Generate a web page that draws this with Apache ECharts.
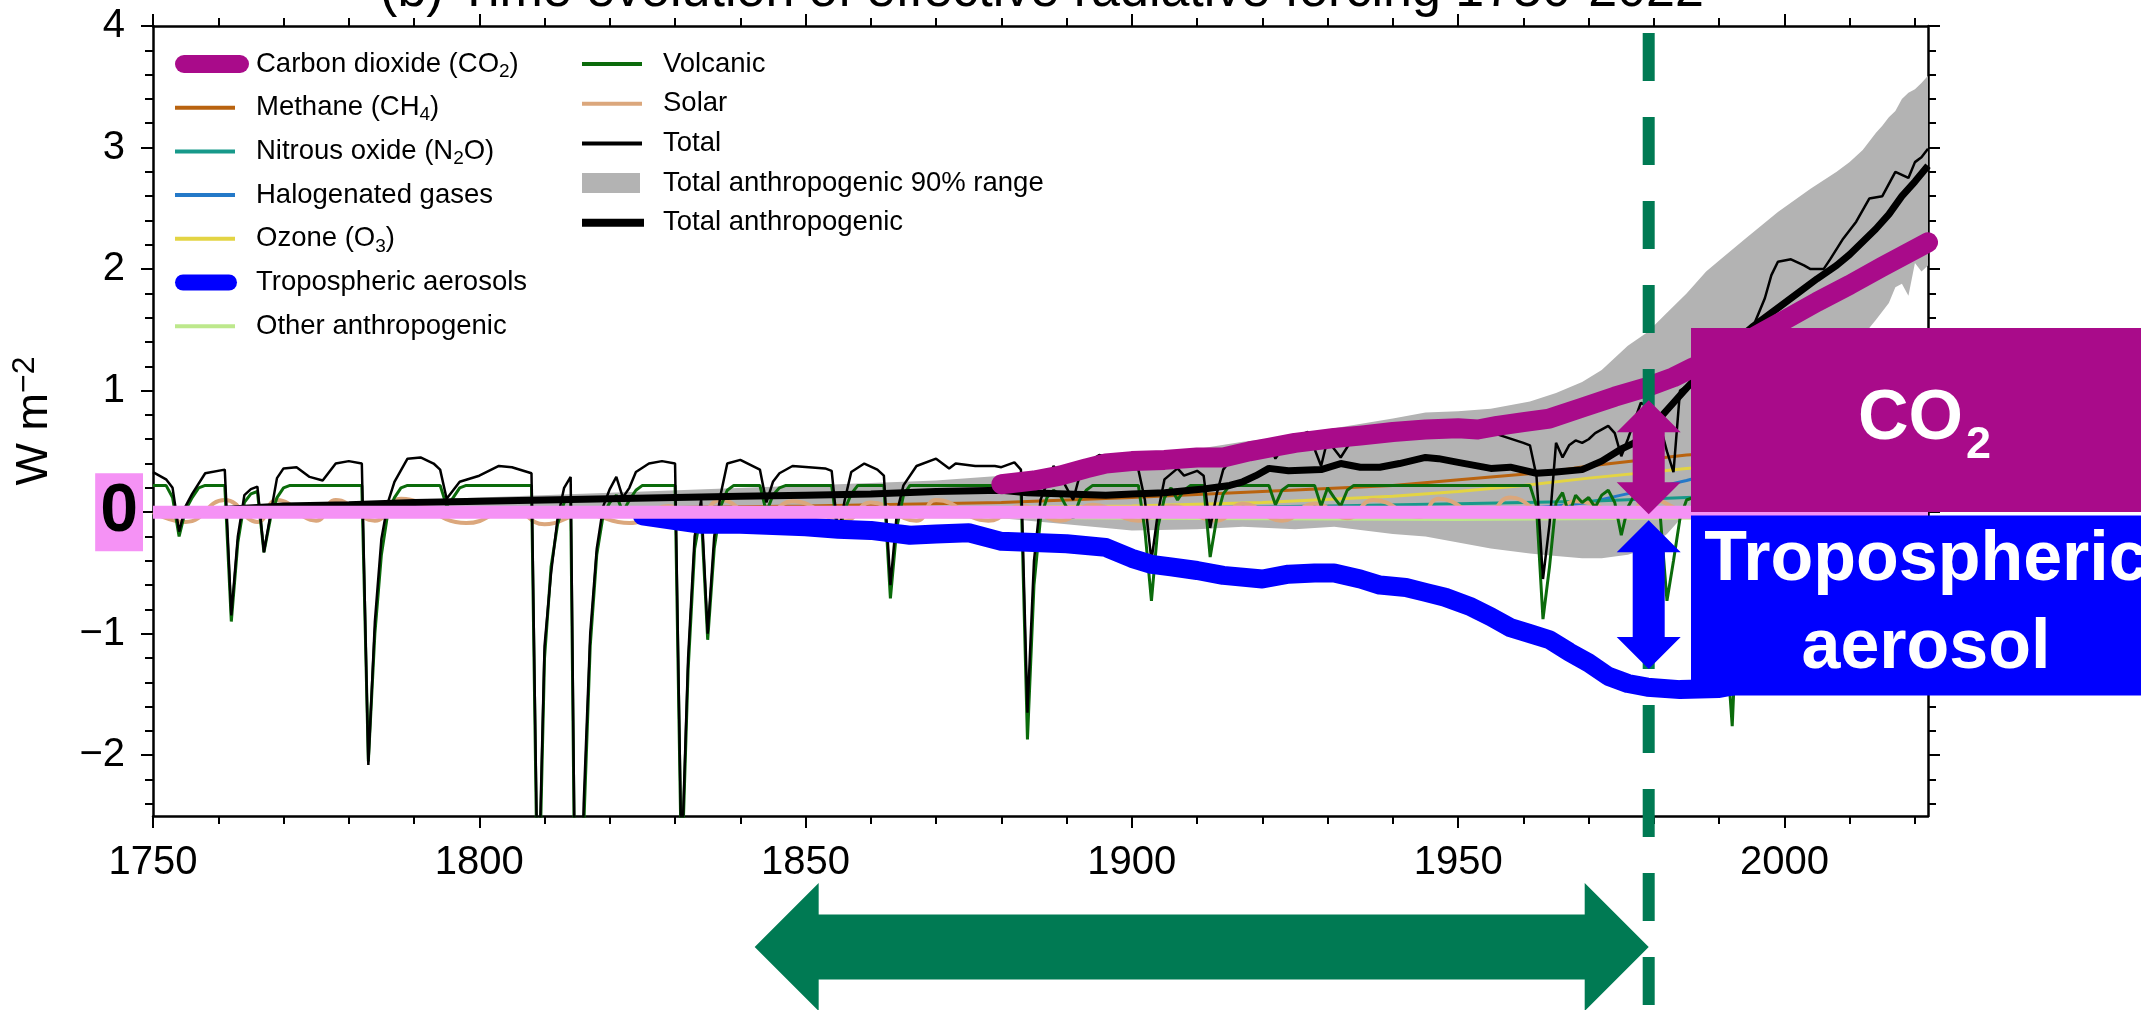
<!DOCTYPE html>
<html><head><meta charset="utf-8">
<script src="https://cdn.jsdelivr.net/npm/echarts@6/dist/echarts.min.js"></script>
<style>html,body{margin:0;padding:0;background:#fff}#main{width:2141px;height:1010px}</style>
</head><body><div id="main"></div>
<script>
const FONT = "'Liberation Sans', Arial, Helvetica, sans-serif";

// ---------- tick positions ----------
const xMajorTicks = [1750,1800,1850,1900,1950,2000];
const xMinorTicks = [1760,1770,1780,1790,1810,1820,1830,1840,1860,1870,1880,1890,1910,1920,1930,1940,1960,1970,1980,1990,2010,2020];
const yMajorTicks = [-2,-1,0,1,2,3,4];
const yMinorTicks = [-2.4,-2.2,-1.8,-1.6,-1.4,-1.2,-0.8,-0.6,-0.4,-0.2,0.2,0.4,0.6,0.8,1.2,1.4,1.6,1.8,2.2,2.4,2.6,2.8,3.2,3.4,3.6,3.8];

// ---------- series values [year, W m-2] ----------
const co2Data = [[1880,0.23],[1885,0.26],[1889,0.3],[1893,0.36],[1896,0.4],[1900,0.42],[1905,0.43],[1910,0.45],[1914,0.45],[1918,0.5],[1921,0.53],[1925,0.57],[1931,0.61],[1935,0.63],[1940,0.66],[1945,0.68],[1950,0.69],[1953,0.68],[1956,0.71],[1960,0.74],[1964,0.77],[1969,0.86],[1974,0.95],[1979,1.03],[1983,1.11],[1986,1.19],[1990,1.29],[1994,1.4],[1997,1.49],[2000,1.58],[2005,1.73],[2010,1.87],[2015,2.02],[2022,2.22]];
const ch4Data = [[1750,0],[1800,0.02],[1850,0.05],[1880,0.08],[1900,0.12],[1920,0.17],[1940,0.22],[1955,0.29],[1964,0.33],[1970,0.38],[1985,0.47],[2000,0.52],[2022,0.57]];
const n2oData = [[1750,0],[1800,0.005],[1850,0.01],[1900,0.03],[1930,0.05],[1950,0.07],[1970,0.09],[1985,0.12],[2000,0.15],[2022,0.21]];
const halogenData = [[1750,0],[1930,0],[1945,0.005],[1955,0.02],[1960,0.03],[1965,0.05],[1970,0.08],[1975,0.14],[1980,0.2],[1985,0.26],[1990,0.33],[1995,0.37],[2000,0.39],[2010,0.4],[2022,0.41]];
const ozoneData = [[1750,0],[1850,0.02],[1900,0.05],[1920,0.08],[1940,0.13],[1950,0.17],[1960,0.22],[1970,0.28],[1985,0.36],[2000,0.42],[2022,0.47]];
const aerosolData = [[1825,-0.03],[1830,-0.07],[1834,-0.1],[1840,-0.1],[1845,-0.11],[1850,-0.12],[1855,-0.14],[1860,-0.15],[1866,-0.19],[1870,-0.18],[1875,-0.17],[1880,-0.24],[1885,-0.25],[1890,-0.26],[1896,-0.29],[1900,-0.38],[1903,-0.43],[1906,-0.45],[1910,-0.48],[1914,-0.52],[1920,-0.55],[1924,-0.51],[1928,-0.5],[1931,-0.5],[1935,-0.55],[1938,-0.6],[1942,-0.62],[1945,-0.66],[1948,-0.7],[1952,-0.78],[1955,-0.86],[1958,-0.95],[1961,-1.0],[1964,-1.05],[1967,-1.15],[1970,-1.24],[1973,-1.35],[1976,-1.41],[1979,-1.44],[1984,-1.46],[1990,-1.45],[2000,-1.35],[2010,-1.25],[2022,-1.1]];
const otherData = [[1750,0],[1800,-0.01],[1850,-0.03],[1900,-0.05],[1950,-0.06],[1980,-0.05],[2022,-0.04]];
const volcanicData = [[1750,0.22],[1752,0.22],[1753,0.12],[1754,-0.2],[1755,0.02],[1756,0.12],[1757,0.2],[1758,0.22],[1761,0.22],[1762,-0.9],[1763,-0.25],[1764,0.08],[1765,0.15],[1766,0.17],[1767,-0.33],[1768,-0.05],[1769,0.12],[1770,0.2],[1771,0.22],[1782,0.22],[1783,-2.05],[1784,-1.0],[1785,-0.35],[1786,0.0],[1787,0.12],[1788,0.2],[1789,0.22],[1794,0.22],[1795,0.05],[1796,0.12],[1797,0.2],[1798,0.22],[1808,0.22],[1809,-3.5],[1810,-1.2],[1811,-0.45],[1812,-0.1],[1813,0.08],[1814,0.12],[1815,-5.0],[1816,-2.6],[1817,-1.1],[1818,-0.35],[1819,-0.02],[1820,0.08],[1821,0.14],[1822,0.0],[1823,0.1],[1824,0.18],[1825,0.22],[1830,0.22],[1831,-3.0],[1832,-1.3],[1833,-0.3],[1834,0.0],[1835,-1.05],[1836,-0.3],[1837,0.05],[1838,0.18],[1839,0.22],[1843,0.22],[1844,0.0],[1845,0.14],[1846,0.2],[1847,0.22],[1854,0.22],[1855,-0.2],[1856,0.02],[1857,0.15],[1858,0.22],[1862,0.22],[1863,-0.71],[1864,-0.12],[1865,0.14],[1866,0.22],[1883,0.22],[1884,-1.87],[1885,-0.6],[1886,-0.05],[1887,0.12],[1888,0.18],[1889,0.14],[1890,0.04],[1891,-0.05],[1892,0.1],[1893,0.18],[1894,0.22],[1901,0.22],[1902,-0.15],[1903,-0.73],[1904,-0.12],[1905,0.12],[1906,0.2],[1907,0.1],[1908,0.18],[1909,0.22],[1911,0.22],[1912,-0.37],[1913,-0.05],[1914,0.15],[1915,0.22],[1921,0.22],[1922,0.06],[1923,0.18],[1924,0.22],[1928,0.22],[1929,0.05],[1930,0.2],[1931,0.12],[1932,0.05],[1933,0.18],[1934,0.22],[1961,0.22],[1962,0.05],[1963,-0.88],[1964,-0.45],[1965,0.08],[1966,0.16],[1967,-0.02],[1968,0.14],[1969,0.08],[1970,0.12],[1971,0.04],[1972,0.14],[1973,0.18],[1974,0.08],[1975,-0.19],[1976,0.04],[1977,0.14],[1978,0.1],[1979,0.06],[1980,0.08],[1981,-0.05],[1982,-0.73],[1983,-0.4],[1984,-0.05],[1985,0.1],[1986,0.12],[1988,0.1],[1990,0.05],[1991,-1.0],[1992,-1.76],[1993,-0.5],[1994,0.0],[1995,0.1],[2000,0.14],[2005,0.1],[2010,0.08],[2015,0.1],[2022,0.12]];
const solarData = [[1750,0.0],[1755,-0.08],[1761,0.1],[1766,-0.08],[1769,0.1],[1775,-0.07],[1778,0.1],[1784,-0.07],[1788,0.11],[1798,-0.09],[1805,0.02],[1810,-0.1],[1816,-0.02],[1823,-0.09],[1829,0.05],[1833,-0.07],[1837,0.1],[1843,-0.07],[1848,0.09],[1856,-0.07],[1860,0.08],[1867,-0.07],[1870,0.1],[1878,-0.07],[1883,0.05],[1889,-0.07],[1894,0.06],[1901,-0.07],[1906,0.05],[1913,-0.07],[1917,0.07],[1923,-0.07],[1928,0.07],[1933,-0.05],[1937,0.1],[1944,-0.04],[1947,0.11],[1954,-0.03],[1958,0.12],[1964,-0.02],[1968,0.09],[1976,-0.02],[1979,0.11],[1986,0.0],[1989,0.11],[1996,0.0],[2000,0.1],[2008,-0.02],[2014,0.06],[2019,-0.02],[2022,0.03]];
const totalData = [[1750,0.33],[1752,0.27],[1753,0.2],[1754,-0.16],[1755,0.05],[1756,0.15],[1758,0.32],[1761,0.35],[1762,-0.85],[1763,-0.2],[1764,0.14],[1765,0.19],[1766,0.21],[1767,-0.33],[1768,-0.02],[1769,0.28],[1770,0.36],[1772,0.37],[1774,0.29],[1776,0.26],[1778,0.4],[1780,0.42],[1782,0.4],[1783,-2.08],[1784,-0.9],[1785,-0.22],[1786,0.08],[1787,0.25],[1789,0.44],[1791,0.45],[1793,0.4],[1794,0.35],[1795,0.11],[1796,0.18],[1797,0.25],[1800,0.3],[1803,0.38],[1805,0.37],[1808,0.32],[1809,-3.3],[1810,-1.1],[1811,-0.5],[1812,-0.05],[1813,0.2],[1814,0.29],[1815,-4.8],[1816,-2.4],[1817,-1.0],[1818,-0.3],[1819,0.05],[1820,0.19],[1821,0.29],[1822,0.12],[1823,0.2],[1824,0.33],[1826,0.4],[1828,0.42],[1830,0.4],[1831,-2.9],[1832,-1.2],[1833,-0.2],[1834,0.1],[1835,-1.0],[1836,-0.2],[1837,0.15],[1838,0.4],[1840,0.43],[1843,0.35],[1844,0.08],[1845,0.25],[1846,0.32],[1848,0.38],[1853,0.36],[1854,0.34],[1855,-0.19],[1856,0.1],[1857,0.33],[1859,0.4],[1861,0.35],[1862,0.3],[1863,-0.6],[1864,0.0],[1865,0.22],[1867,0.38],[1870,0.44],[1872,0.36],[1873,0.4],[1876,0.38],[1879,0.38],[1880,0.37],[1882,0.41],[1883,0.35],[1884,-1.65],[1885,-0.4],[1886,0.1],[1888,0.38],[1889,0.3],[1890,0.2],[1891,0.1],[1892,0.3],[1893,0.4],[1895,0.47],[1899,0.41],[1901,0.35],[1902,0.1],[1903,-0.4],[1904,0.0],[1905,0.27],[1907,0.36],[1908,0.3],[1910,0.34],[1911,0.3],[1912,-0.13],[1913,0.15],[1914,0.35],[1916,0.49],[1918,0.57],[1921,0.57],[1922,0.44],[1924,0.6],[1927,0.66],[1929,0.38],[1930,0.6],[1931,0.52],[1932,0.45],[1934,0.62],[1935,0.68],[1938,0.71],[1941,0.64],[1945,0.73],[1949,0.73],[1952,0.66],[1956,0.64],[1960,0.57],[1961,0.55],[1962,0.3],[1963,-0.55],[1964,-0.1],[1965,0.57],[1966,0.45],[1967,0.55],[1968,0.59],[1969,0.57],[1970,0.6],[1971,0.65],[1973,0.71],[1974,0.65],[1975,0.46],[1976,0.6],[1977,0.75],[1978,0.9],[1980,0.85],[1981,0.7],[1982,0.5],[1983,0.33],[1984,1.0],[1986,1.07],[1987,1.12],[1989,1.13],[1990,1.15],[1991,0.8],[1992,-0.3],[1993,0.6],[1994,1.2],[1995,1.5],[1997,1.76],[1998,1.95],[1999,2.06],[2001,2.08],[2003,2.03],[2004,2.0],[2006,2.0],[2007,2.08],[2009,2.25],[2011,2.39],[2013,2.58],[2015,2.6],[2017,2.8],[2019,2.75],[2020,2.88],[2021,2.92],[2022,2.99]];
const totalAnthroData = [[1750,0],[1760,0.02],[1770,0.05],[1780,0.06],[1790,0.08],[1800,0.09],[1810,0.1],[1820,0.11],[1830,0.12],[1840,0.13],[1850,0.14],[1860,0.15],[1870,0.17],[1880,0.18],[1884,0.16],[1890,0.15],[1896,0.14],[1900,0.15],[1905,0.16],[1911,0.19],[1915,0.22],[1917,0.25],[1919,0.3],[1921,0.36],[1924,0.34],[1929,0.35],[1932,0.4],[1935,0.37],[1938,0.37],[1941,0.4],[1945,0.45],[1947,0.44],[1950,0.41],[1955,0.36],[1958,0.37],[1962,0.32],[1965,0.33],[1969,0.35],[1972,0.42],[1975,0.52],[1977,0.57],[1980,0.72],[1983,0.9],[1985,1.02],[1990,1.3],[1995,1.52],[2000,1.72],[2002,1.8],[2005,1.92],[2008,2.03],[2010,2.12],[2014,2.33],[2016,2.45],[2018,2.6],[2020,2.72],[2022,2.85]];
const bandYears = [1750,1780,1800,1820,1850,1870,1880,1890,1900,1910,1917,1925,1931,1940,1945,1950,1955,1961,1965,1969,1972,1976,1979,1982,1985,1988,1990,1994,1999,2004,2008,2010,2012,2014,2015,2016,2017,2018,2019,2020,2021,2022];
const bandLow  = [0,0.01,0.0,-0.01,-0.03,-0.04,-0.05,-0.1,-0.15,-0.14,-0.12,-0.14,-0.12,-0.18,-0.2,-0.25,-0.3,-0.34,-0.36,-0.38,-0.38,-0.35,-0.3,-0.18,0.0,0.2,0.35,0.6,0.85,1.05,1.25,1.33,1.45,1.58,1.65,1.72,1.85,1.88,1.78,2.05,1.98,2.03];
const bandHigh = [0,0.08,0.12,0.16,0.22,0.26,0.3,0.38,0.45,0.52,0.58,0.63,0.69,0.77,0.82,0.83,0.85,0.91,0.98,1.07,1.17,1.37,1.48,1.64,1.8,1.98,2.07,2.25,2.47,2.66,2.8,2.88,2.98,3.12,3.18,3.25,3.3,3.4,3.45,3.48,3.53,3.59];
const zeroLine = [[1750,0],[2022,0]];

// annotation anchors (data units)
const markerYear = 1979.2;
const bottomArrowStartYear = 1842.2;
const co2ArrowTop = 0.92;
const aerosolArrowBottom = -1.29;

const C = {co2:'#A90B8A', ch4:'#B9630F', n2o:'#17998A', halo:'#2479C8', o3:'#E3D443', aer:'#0000FF', other:'#BDE88C', volc:'#0B6B0B', solar:'#DBA77C', total:'#000000', band:'#B3B3B3', pink:'#F592F5', green:'#007A53'};

const richLegend = {
  'Carbon dioxide (CO2)': 'Carbon dioxide (CO{sub|2})',
  'Methane (CH4)': 'Methane (CH{sub|4})',
  'Nitrous oxide (N2O)': 'Nitrous oxide (N{sub|2}O)',
  'Ozone (O3)': 'Ozone (O{sub|3})'
};
function box(d) { return 'path://M0,0M76,22' + d; }
const iconThin = box('M0,9L60,9L60,13L0,13Z');
const iconCO2 = box('M9,2L65,2A9,9,0,0,1,65,20L9,20A9,9,0,0,1,9,2Z');
const iconAer = box('M8,3L54,3A8,8,0,0,1,54,19L8,19A8,8,0,0,1,8,3Z');
const iconBand = box('M0,1L58,1L58,21L0,21Z');
const iconThick = box('M0,7L62,7L62,15L0,15Z');

const legendText = {
  fontSize: 27.5, fontFamily: FONT, color: '#000', lineHeight: 34,
  rich: { sub: { fontSize: 19, fontFamily: FONT, color: '#000', verticalAlign: 'bottom' } }
};

function xAx(pos, ticks, len, line, labels) {
  return {
    type: 'value', gridIndex: 0, position: pos, min: 1750, max: 2022,
    axisLine: { show: line, onZero: false, lineStyle: { color: '#000', width: 2.5 } },
    axisTick: { show: true, inside: false, length: len, customValues: ticks, lineStyle: { color: '#000', width: 2 } },
    axisLabel: labels ? { show: true, customValues: ticks, fontSize: 40, fontFamily: FONT, color: '#000', margin: 27,
      formatter: function (v) { return String(v); } } : { show: false },
    splitLine: { show: false }
  };
}
function yAx(pos, ticks, len, line, labels) {
  const a = {
    type: 'value', gridIndex: 0, position: pos, min: -2.5, max: 4,
    axisLine: { show: line, onZero: false, lineStyle: { color: '#000', width: 2.5 } },
    axisTick: { show: true, inside: false, length: len, customValues: ticks, lineStyle: { color: '#000', width: 2 } },
    axisLabel: { show: false },
    splitLine: { show: false }
  };
  if (labels) {
    a.axisLabel = {
      show: true, customValues: ticks, margin: 10,
      formatter: function (v) {
        if (v === 0) return '{z|0}';
        return '{n|' + (v < 0 ? '\u2212' + Math.abs(v) : String(v)) + '}';
      },
      rich: {
        z: { fontSize: 68, fontWeight: 'bold', fontFamily: FONT, color: '#000', backgroundColor: C.pink, padding: [5, 5, 5, 5], lineHeight: 75 },
        n: { fontSize: 40, fontFamily: FONT, color: '#000', padding: [0, 18, 0, 0] }
      }
    };
    a.name = 'W m{sup|\u22122}';
    a.nameLocation = 'middle';
    a.nameGap = 92;
    a.nameTextStyle = { fontSize: 45, fontFamily: FONT, color: '#000', lineHeight: 52,
      rich: { sup: { fontSize: 32, fontFamily: FONT, color: '#000', verticalAlign: 'top' } } };
  }
  return a;
}
function line(name, data, color, width, z, extra) {
  return Object.assign({
    name: name, type: 'line', data: data, xAxisIndex: 0, yAxisIndex: 0, symbol: 'none', z: z,
    lineStyle: { color: color, width: width }, itemStyle: { color: color },
    emphasis: { disabled: true }, silent: true
  }, extra || {});
}

const option = {
  animation: false,
  backgroundColor: '#ffffff',
  grid: { left: 153, right: 213, top: 26, bottom: 194, show: false },
  xAxis: [xAx('bottom', xMajorTicks, 12, true, true), xAx('bottom', xMinorTicks, 8, false, false),
          xAx('top', xMajorTicks, 12, true, false), xAx('top', xMinorTicks, 8, false, false)],
  yAxis: [yAx('left', yMajorTicks, 12, true, true), yAx('left', yMinorTicks, 8, false, false),
          yAx('right', yMajorTicks, 12, true, false), yAx('right', yMinorTicks, 8, false, false)],
  legend: [
    { left: 175, top: 47, orient: 'vertical', padding: 0, itemWidth: 76, itemHeight: 22, itemGap: 9.7,
      selectedMode: false, symbolKeepAspect: false, textStyle: legendText,
      formatter: function (n) { return richLegend[n] || n; },
      data: [
        { name: 'Carbon dioxide (CO2)', icon: iconCO2 },
        { name: 'Methane (CH4)', icon: iconThin },
        { name: 'Nitrous oxide (N2O)', icon: iconThin },
        { name: 'Halogenated gases', icon: iconThin },
        { name: 'Ozone (O3)', icon: iconThin },
        { name: 'Tropospheric aerosols', icon: iconAer },
        { name: 'Other anthropogenic', icon: iconThin }
      ] },
    { left: 582, top: 47, orient: 'vertical', padding: 0, itemWidth: 76, itemHeight: 22, itemGap: 5.7,
      selectedMode: false, symbolKeepAspect: false, textStyle: legendText,
      data: [
        { name: 'Volcanic', icon: iconThin },
        { name: 'Solar', icon: iconThin },
        { name: 'Total', icon: iconThin },
        { name: 'Total anthropogenic 90% range', icon: iconBand },
        { name: 'Total anthropogenic', icon: iconThick }
      ] }
  ],
  series: [
    {
      name: 'Total anthropogenic 90% range', type: 'custom', xAxisIndex: 0, yAxisIndex: 0, z: 1, silent: true,
      itemStyle: { color: C.band }, data: [[1750, 0]],
      renderItem: function (params, api) {
        const pts = [];
        for (let i = 0; i < bandYears.length; i++) pts.push(api.coord([bandYears[i], bandHigh[i]]));
        for (let i = bandYears.length - 1; i >= 0; i--) pts.push(api.coord([bandYears[i], bandLow[i]]));
        return { type: 'polygon', shape: { points: pts }, style: { fill: C.band } };
      }
    },
    line('Other anthropogenic', otherData, C.other, 3, 2),
    line('Halogenated gases', halogenData, C.halo, 3, 2),
    line('Nitrous oxide (N2O)', n2oData, C.n2o, 3, 2),
    line('Ozone (O3)', ozoneData, C.o3, 3, 2),
    line('Methane (CH4)', ch4Data, C.ch4, 3, 2),
    line('Solar', solarData, C.solar, 4, 2, { smooth: 0.5 }),
    line('Volcanic', volcanicData, C.volc, 3, 2),
    line('Total', totalData, C.total, 2.5, 2),
    line('Total anthropogenic', totalAnthroData, C.total, 7, 2),
    line('Carbon dioxide (CO2)', co2Data, C.co2, 20, 3, { lineStyle: { color: C.co2, width: 20, cap: 'round', join: 'round' } }),
    line('Tropospheric aerosols', aerosolData, C.aer, 19, 3, { lineStyle: { color: C.aer, width: 19, cap: 'round', join: 'round' } }),
    line('zero', zeroLine, C.pink, 13, 4, { clip: false })
  ]
};

const chart = echarts.init(document.getElementById('main'), null, { renderer: 'canvas', width: 2141, height: 1010 });
chart.setOption(option);

function P(x, y) { return chart.convertToPixel({ xAxisIndex: 0, yAxisIndex: 0 }, [x, y]); }
const mx = P(markerYear, 0)[0];
const zeroY = P(markerYear, 0)[1];
const co2TopY = P(markerYear, co2ArrowTop)[1];
const aerBotY = P(markerYear, aerosolArrowBottom)[1];
const leftX = P(bottomArrowStartYear, 0)[0];

function vArrow(x, y1, y2) {
  const h = 32, hw = 32, sw = 16;
  return [[x, y1], [x + hw, y1 + h], [x + sw, y1 + h], [x + sw, y2 - h], [x + hw, y2 - h], [x, y2],
          [x - hw, y2 - h], [x - sw, y2 - h], [x - sw, y1 + h], [x - hw, y1 + h]];
}
function hArrow(x1, x2, cy) {
  const h = 64, hh = 64, bh = 32.5;
  return [[x1, cy], [x1 + h, cy - hh], [x1 + h, cy - bh], [x2 - h, cy - bh], [x2 - h, cy - hh], [x2, cy],
          [x2 - h, cy + hh], [x2 - h, cy + bh], [x1 + h, cy + bh], [x1 + h, cy + hh]];
}

chart.setOption({
  graphic: [
    { type: 'text', z: 120, style: { text: '(b) Time evolution of effective radiative forcing 1750-2022', x: 1042, y: -8,
      align: 'center', verticalAlign: 'middle', font: '52px ' + FONT, fill: '#000' } },
    { type: 'line', z: 100, shape: { x1: mx, y1: 33, x2: mx, y2: 1010 },
      style: { stroke: C.green, lineWidth: 12, lineDash: [48, 36] } },
    { type: 'polygon', z: 101, shape: { points: vArrow(mx, co2TopY, zeroY + 2) }, style: { fill: C.co2 } },
    { type: 'polygon', z: 101, shape: { points: vArrow(mx, zeroY + 8, aerBotY) }, style: { fill: C.aer } },
    { type: 'polygon', z: 101, shape: { points: hArrow(leftX, mx, 947) }, style: { fill: C.green } },
    { type: 'rect', z: 102, shape: { x: 1691, y: 328, width: 450, height: 184 }, style: { fill: C.co2 } },
    { type: 'rect', z: 102, shape: { x: 1691, y: 515.5, width: 450, height: 180 }, style: { fill: C.aer } },
    { type: 'text', z: 103, style: { text: 'CO', x: 1963, y: 420, align: 'right', verticalAlign: 'middle',
      font: 'bold 70px ' + FONT, fill: '#fff' } },
    { type: 'text', z: 103, style: { text: '2', x: 1966, y: 446, align: 'left', verticalAlign: 'middle',
      font: 'bold 45px ' + FONT, fill: '#fff' } },
    { type: 'text', z: 103, style: { text: 'Tropospheric\naerosol', x: 1926, y: 605, align: 'center', verticalAlign: 'middle',
      font: 'bold 70px ' + FONT, lineHeight: 88, fill: '#fff' } }
  ]
});
</script></body></html>
